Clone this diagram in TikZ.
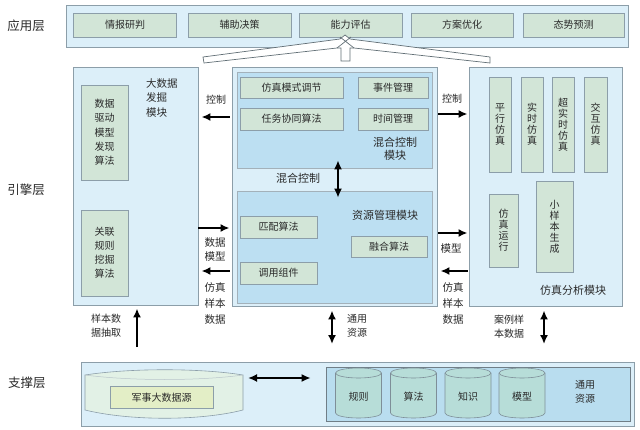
\documentclass[tikz,border=0pt]{standalone}
\usepackage{fontspec}
\newfontfamily\cjk{Noto Sans CJK SC}
\usetikzlibrary{arrows.meta,calc}
\definecolor{bordc}{HTML}{8C9EA9}
\definecolor{lblue}{HTML}{DCEFF9}
\definecolor{mblue}{HTML}{BCDFF2}
\definecolor{sage}{HTML}{D2E5D7}
\definecolor{txt}{HTML}{2A2A2A}
\definecolor{cylc}{HTML}{B7DDD8}
\definecolor{resc}{HTML}{B9DDEF}
\definecolor{ribc}{HTML}{E2F1E6}
\definecolor{milc}{HTML}{E3EEC6}
\begin{document}
\begin{tikzpicture}[x=1pt,y=-1pt,
  font=\cjk\fontsize{10}{12}\selectfont, text=txt,
  outerbox/.style={draw=bordc, fill=lblue, line width=0.9pt, inner sep=0pt},
  midbox/.style={draw=bordc!80, fill=mblue, line width=0.6pt, inner sep=0pt},
  gbox/.style={draw=bordc, fill=sage, line width=0.6pt, inner sep=0pt, align=center},
  vbox/.style={gbox, font=\cjk\fontsize{10}{11}\selectfont},
  lbl/.style={align=center, inner sep=0pt},
  layer/.style={inner sep=0pt, font=\cjk\fontsize{12.5}{14}\selectfont},
  arr/.style={line width=2pt, -{Latex[length=9pt,width=8pt]}},
  darr/.style={line width=2pt, {Latex[length=9pt,width=8pt]}-{Latex[length=9pt,width=8pt]}},
  cyl/.style={draw=bordc!90!black, fill=cylc, line width=0.6pt}]
\useasboundingbox (0,0) rectangle (640,430);
\fill[white] (0,0) rectangle (640,430);

% layer labels
\node[layer] (l1) at (26,26) {应用层};
\node[layer] (l2) at (26,190) {引擎层};
\node[layer] (l3) at (27,383) {支撑层};

% application layer
\node[outerbox, minimum width=562, minimum height=42] (app) at (347,26) {};
\node[gbox, minimum width=103, minimum height=24] (a1) at (125,25) {情报研判};
\node[gbox, minimum width=103, minimum height=24] (a2) at (239.5,25) {辅助决策};
\node[gbox, minimum width=103, minimum height=24] (a3) at (350.5,25) {能力评估};
\node[gbox, minimum width=102, minimum height=24] (a4) at (462,25) {方案优化};
\node[gbox, minimum width=101, minimum height=24] (a5) at (573.5,25) {态势预测};

% chevron arrow
\draw[draw=bordc!70!black, fill=white, line width=0.7pt]
  (203,57) -- (340,39) -- (345,35) -- (350,39) -- (490,57) -- (490,63)
  -- (354,48) -- (350,48) -- (350,61) -- (341,61) -- (341,48) -- (337,48)
  -- (204,63) -- cycle;
\draw[draw=bordc!70!black, line width=0.7pt] (337,48) -- (351,37) (354,48) -- (340,37);

% big data mining module
\node[outerbox, minimum width=125, minimum height=238] (bd) at (135.5,186) {};
\node[lbl, align=left, anchor=north west, font=\cjk\fontsize{10.5}{14.5}\selectfont] (bdt) at (146,78) {大数据\\发掘\\模块};
\node[vbox, minimum width=47, minimum height=95, font=\cjk\fontsize{10}{14.3}\selectfont] (b1) at (104.5,132.5) {数据\\驱动\\模型\\发现\\算法};
\node[vbox, minimum width=47, minimum height=86, font=\cjk\fontsize{10}{14}\selectfont] (b2) at (104.5,253) {关联\\规则\\挖掘\\算法};

% middle modules
\node[outerbox, minimum width=205, minimum height=239] (mid) at (334.5,186.5) {};
\node[midbox, minimum width=195, minimum height=96] (hyb) at (334.5,120) {};
\node[midbox, minimum width=195, minimum height=112] (res) at (334.5,247) {};
\node[gbox, minimum width=103, minimum height=21] (h1) at (291.5,87.5) {仿真模式调节};
\node[gbox, minimum width=70, minimum height=21] (h2) at (393,87.5) {事件管理};
\node[gbox, minimum width=103, minimum height=22] (h3) at (291.5,119) {任务协同算法};
\node[gbox, minimum width=70, minimum height=22] (h4) at (393,119) {时间管理};
\node[lbl, font=\cjk\fontsize{11}{12.5}\selectfont] (hybt) at (395,149) {混合控制\\模块};
\node[lbl, font=\cjk\fontsize{11}{13}\selectfont] (hyl) at (298,178) {混合控制};
\node[lbl, font=\cjk\fontsize{11}{13}\selectfont] (rest) at (385,215) {资源管理模块};
\node[gbox, minimum width=77, minimum height=22] (r1) at (278.5,227) {匹配算法};
\node[gbox, minimum width=76, minimum height=21] (r2) at (389,246.5) {融合算法};
\node[gbox, minimum width=77, minimum height=22] (r3) at (278.5,273) {调用组件};

% simulation analysis module
\node[outerbox, minimum width=153, minimum height=239] (sim) at (545.5,186.5) {};
\node[vbox, minimum width=22, minimum height=95] (s1) at (500,124.5) {平\\行\\仿\\真};
\node[vbox, minimum width=22, minimum height=95] (s2) at (532,124.5) {实\\时\\仿\\真};
\node[vbox, minimum width=22, minimum height=95] (s3) at (563,124.5) {超\\实\\时\\仿\\真};
\node[vbox, minimum width=23, minimum height=95] (s4) at (595.5,124.5) {交\\互\\仿\\真};
\node[vbox, minimum width=29, minimum height=73] (s5) at (503.5,230.5) {仿\\真\\运\\行};
\node[vbox, minimum width=37, minimum height=91] (s6) at (554.5,226.5) {小\\样\\本\\生\\成};
\node[lbl, font=\cjk\fontsize{11}{13}\selectfont] (simt) at (573,290) {仿真分析模块};

% support layer
\node[outerbox, minimum width=553, minimum height=64] (bb) at (357.5,394.5) {};
\draw[draw=bordc, fill=ribc, line width=0.6pt]
  (85,375) .. controls (130,368) and (200,368) .. (243,375) -- (243,410)
  .. controls (200,421) and (130,421) .. (85,410) -- cycle;
\draw[draw=bordc!60, line width=0.5pt] (85,375) .. controls (130,381) and (200,381) .. (243,375);
\node[gbox, fill=milc, minimum width=103, minimum height=22] (mil) at (161.5,397.5) {军事大数据源};
\coordinate (ribE) at (243,378);
\node[midbox, fill=resc, draw=bordc!80!black, minimum width=304, minimum height=54] (rb) at (478,394) {};
\foreach \cx/\nm/\t in {358.5/c1/规则, 413.5/c2/算法, 468/c3/知识, 522/c4/模型}{
  \path[cyl] (\cx-23,373) -- (\cx-23,413) arc[start angle=180, end angle=360, x radius=23pt, y radius=5pt]
     -- (\cx+23,373) arc[start angle=0, end angle=180, x radius=23pt, y radius=5pt] -- cycle;
  \draw[cyl, fill=none] (\cx-23,373) arc[start angle=180, end angle=360, x radius=23pt, y radius=5pt];
  \node[lbl] (\nm) at (\cx,397) {\t};
}
\node[lbl, font=\cjk\fontsize{10}{14}\selectfont] (rbt) at (585,392) {通用\\资源};

% arrow labels
\node[lbl] (t1) at (216,100) {控制};
\node[lbl, font=\cjk\fontsize{10.5}{14}\selectfont] (t2) at (215,250) {数据\\模型};
\node[lbl, font=\cjk\fontsize{10.5}{16}\selectfont] (t3) at (215,304) {仿真\\样本\\数据};
\node[lbl] (t4) at (452,99) {控制};
\node[lbl, font=\cjk\fontsize{10.5}{14}\selectfont] (t5) at (451,249) {模型};
\node[lbl, font=\cjk\fontsize{10.5}{16}\selectfont] (t6) at (453,304) {仿真\\样本\\数据};
\node[lbl, font=\cjk\fontsize{10}{14}\selectfont] (t7) at (106,326) {样本数\\据抽取};
\node[lbl, font=\cjk\fontsize{10}{14}\selectfont] (t8) at (357,326) {通用\\资源};
\node[lbl, font=\cjk\fontsize{10}{14}\selectfont] (t9) at (509,327) {案例样\\本数据};

% connectors
\coordinate (ya) at (0,117);
\coordinate (yb) at (0,228);
\coordinate (yc) at (0,271);
\coordinate (yd) at (0,114);
\coordinate (ye) at (0,233);
\coordinate (xa) at (137,0);
\coordinate (xb) at (332,0);
\coordinate (xc) at (544,0);
\draw[arr] ($(mid.west |- ya)+(-2,0)$) -- ($(bd.east |- ya)+(3,0)$);
\draw[arr] ($(bd.east |- yb)+(0,0)$) -- ($(mid.west |- yb)+(-2,0)$);
\draw[arr] ($(mid.west |- yc)+(-2,0)$) -- ($(bd.east |- yc)+(3,0)$);
\draw[arr] ($(mid.east |- yd)+(1,0)$) -- ($(sim.west |- yd)+(-1,0)$);
\draw[arr] ($(mid.east |- ye)+(1,0)$) -- ($(sim.west |- ye)+(-1,0)$);
\draw[arr] ($(sim.west |- yc)+(-1,0)$) -- ($(mid.east |- yc)+(3,0)$);
\draw[darr] ($(hyb.south)+(3.5,-8)$) -- ($(res.north)+(3.5,7)$);
\draw[arr] ($(bb.north -| xa)+(0,-15)$) -- ($(bd.south -| xa)+(0,3)$);
\draw[darr] ($(mid.south -| xb)+(0,4)$) -- ($(bb.north -| xb)+(0,-18)$);
\draw[darr] ($(sim.south -| xc)+(0,4)$) -- ($(bb.north -| xc)+(0,-18)$);
\draw[darr] ($(ribE)+(5,0)$) -- ($(rb.west |- ribE)+(-15,0)$);
\end{tikzpicture}
\end{document}
